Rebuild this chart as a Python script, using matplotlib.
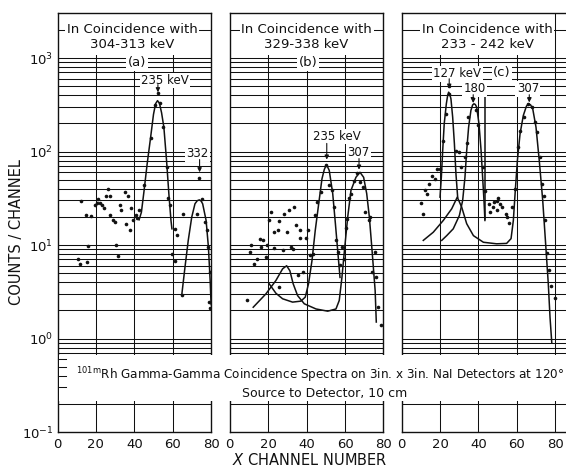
import matplotlib
matplotlib.use("Agg")
import matplotlib.pyplot as plt
import matplotlib.transforms as mtransforms
from matplotlib.patches import Rectangle
from matplotlib.lines import Line2D

plt.rcParams['font.family'] = ['DejaVu Sans']
plt.rcParams['mathtext.fontset'] = 'dejavusans'

# ---------------- data ----------------
x_ticks = [0, 20, 40, 60, 80]
y_ticks = [0.1, 1, 10, 100, 1000]
y_tick_labels = ['$10^{-1}$', '$10^{0}$', '$10^{1}$', '$10^{2}$', '$10^{3}$']

# panel (a): 304-313 keV gate
a_pt_x = [12.4, 14.6, 17.6, 19.3, 20.6, 21.1, 21.9, 23.2, 24.0, 25.5, 26.3, 27.2, 27.6, 28.9, 29.8,
          32.4, 33.3, 35.0, 36.8, 38.5, 35.6, 37.6, 39.4, 40.8, 41.5, 42.5, 15.7, 10.6, 11.9, 15.3,
          30.7, 31.5, 45.1, 48.5, 50.7, 52.1, 53.3, 55.1, 57.2, 57.7, 58.6, 61.2, 62.4, 59.4, 61.2,
          64.7, 65.5, 72.5, 73.9, 75.1, 76.9, 77.7, 78.6, 79.5, 79.1, 79.6]
a_pt_y = [29.4, 20.7, 20.5, 27.1, 28.0, 31.2, 28.0, 26.5, 24.8, 33.8, 39.9, 33.8, 20.7, 18.3, 17.5,
          27.1, 23.4, 36.7, 33.8, 25.0, 16.9, 14.3, 18.3, 20.7, 19.5, 23.4, 9.7, 7.1, 6.3, 6.5,
          10.1, 7.7, 44, 140, 311, 420, 329, 182, 69, 32, 27, 14.9, 12.9, 8.05, 6.8,
          2.9, 21.2, 21.2, 52, 31, 17.5, 14.3, 9.5, 5.1, 2.45, 2.1]
a_c1_x = [42.5, 43.7, 45.1, 46.7, 48.5, 50.0, 51.1, 52.1, 53.1, 54.2, 55.4, 56.8, 58.0, 59.1, 59.6]
a_c1_y = [18.6, 22.4, 38.3, 73.8, 142, 250, 325, 350, 328, 260, 182, 80, 35.3, 18.3, 14.9]
a_c2_x = [64.7, 66.4, 68.1, 69.9, 71.6, 72.8, 73.9, 74.8, 75.6, 77.4, 78.6, 79.5, 80.0]
a_c2_y = [2.9, 5.8, 11.2, 19.8, 27.6, 29.8, 30.4, 29.5, 27.6, 18.3, 9.5, 4.2, 2.3]

# panel (b): 329-338 keV gate
b_pt_x = [9.2, 11.0, 10.4, 12.7, 14.4, 15.7, 17.4, 16.5, 18.8, 19.3, 20.5, 21.7, 23.1, 24.9, 25.7,
          28.3, 30.6, 33.2, 23.1, 27.5, 29.6, 31.8, 32.7, 34.4, 36.5, 36.7, 39.7, 40.9, 35.3, 38.3,
          25.7, 41.9, 43.1, 44.3, 45.2, 47.5, 50.1, 51.5, 53.0, 54.4, 55.3, 56.2, 57.6, 58.4, 59.3,
          60.5, 60.9, 61.9, 63.1, 64.9, 66.1, 68.0, 69.2, 70.4, 72.3, 73.2, 75.7, 74.1, 76.2, 77.0, 79.0]
b_pt_y = [2.6, 10.1, 8.5, 6.3, 7.1, 11.7, 11.4, 9.5, 7.4, 9.9, 18.6, 22.4, 13.9, 14.3, 18.0,
          21.5, 23.8, 25.8, 9.3, 8.95, 13.7, 9.5, 9.1, 16.2, 14.3, 11.9, 11.9, 14.3, 4.8, 5.1,
          3.54, 7.9, 8.05, 20.7, 28.7, 36.7, 72.6, 43.3, 39, 25.4, 11.2, 8.4, 6.1, 9.6, 7.1,
          15.3, 19, 32, 35.5, 47.8, 58.6, 47, 41.5, 22.4, 18.3, 19.8, 8.4, 5.1, 4.6, 2.16, 1.38]
b_c1_x = [12.2, 18.8, 24.0, 27.5, 29.6, 31.3, 33.0, 35.3, 38.8, 44.9, 51.0, 55.3, 57.0, 58.4, 59.7,
          61.4, 63.1, 65.7, 67.8, 69.7, 71.3, 72.7, 74.1, 75.7, 76.3]
b_c1_y = [2.16, 3.0, 4.17, 5.56, 6.0, 5.3, 3.85, 2.88, 2.35, 2.07, 1.96, 2.07, 2.55, 4.5, 8.7,
          19.8, 38.3, 53, 60, 53, 35.5, 19.8, 8.7, 3.26, 1.5]
b_c2_x = [20.5, 24.0, 27.5, 32.7, 37.0, 39.3, 41.0, 42.8, 44.5, 46.3, 48.0, 49.2, 50.1, 51.0, 51.8,
          53.6, 55.0, 56.2, 57.4]
b_c2_y = [3.85, 3.05, 2.66, 2.45, 2.51, 2.77, 3.85, 6.8, 14.3, 27.6, 51, 64, 71, 68, 62.7,
          35.5, 16.9, 8.7, 4.5]

# panel (c): 233-242 keV gate
c_pt_x = [9.9, 11.0, 12.2, 13.4, 14.4, 15.7, 17.4, 18.6, 20.0, 21.4, 23.0, 24.7, 24.8, 28.3, 30.1,
          30.8, 33.0, 34.2, 34.7, 36.5, 38.7, 40.0, 42.2, 43.4, 45.7, 46.1, 47.4, 48.3, 49.5, 50.4,
          51.2, 49.9, 52.1, 54.4, 55.1, 56.1, 57.3, 59.1, 60.8, 61.7, 63.8, 66.0, 66.5, 67.7, 69.5,
          70.3, 72.1, 73.0, 74.2, 74.7, 75.6, 76.8, 77.6, 79.9]
c_pt_y = [28, 21.2, 39, 35, 45, 55, 51, 65, 65, 131, 253, 414, 496, 102, 98,
          68, 87, 123, 233, 380, 275, 190, 68, 38, 27.6, 22.4, 25.4, 28.7, 29.9, 31.8,
          27.6, 23.8, 25.4, 21.2, 19.8, 17.1, 25.4, 40, 111, 167, 233, 324, 380, 298, 205,
          161, 87, 44.8, 33.8, 18.3, 8.2, 5.4, 3.6, 2.7]
c_127_x = [20.0, 20.7, 21.4, 22.2, 23.3, 24.0, 24.5, 25.1, 25.7, 26.6, 27.5, 28.3, 29.2]
c_127_y = [32.5, 53, 102, 198, 324, 400, 431, 410, 366, 233, 121, 58, 32.5]
c_180_x = [20.9, 23.5, 26.9, 30.1, 31.8, 33.0, 33.9, 34.9, 36.1, 37.0, 37.7, 38.4, 39.1, 40.3,
           41.4, 42.2, 42.9, 43.4]
c_180_y = [11.2, 12.6, 14.9, 20.7, 30, 53, 102, 182, 275, 315, 324, 318, 298, 198,
           102, 53, 30, 18.3]
c_L_x = [11.3, 16.5, 21.7, 26.1, 29.0, 31.3, 33.9, 37.4, 42.6, 49.5, 54.7, 57.0, 58.2, 59.1,
         60.3, 61.7, 63.4, 65.0, 66.0, 67.2, 68.3, 70.0, 71.7, 73.5, 74.9, 76.4, 77.3, 78.2]
c_L_y = [11.2, 13.7, 18.3, 24.4, 32.5, 25.4, 16.9, 12.6, 10.7, 10.3, 10.4, 11.7, 18.3, 35.3,
         80, 155, 243, 305, 324, 315, 286, 182, 80, 30, 11.2, 3.85, 1.69, 0.91]
c_mark_x = [43.4, 43.4]
c_mark_y = [380, 19]

# ---------------- figure ----------------
INK = '#111111'
W, H = 566, 469
fig = plt.figure(figsize=(W / 100, H / 100), dpi=100)
BOT, TOP = 432.0, 13.4
PXCH = 1.92


def make_ax(left_px, xmax):
    width = xmax * PXCH
    ax = fig.add_axes([left_px / W, (H - BOT) / H, width / W, (BOT - TOP) / H])
    ax.set_yscale('log')
    ax.set_xlim(0, xmax)
    ax.set_ylim(0.1, 3000)
    ax.yaxis.set_minor_locator(matplotlib.ticker.NullLocator())
    ax.xaxis.set_minor_locator(matplotlib.ticker.NullLocator())
    ax.set_xticks(x_ticks)
    ax.set_xticklabels([str(t) for t in x_ticks])
    ax.tick_params(length=0, labelsize=9.5, pad=4, colors=INK)
    for s in ax.spines.values():
        s.set_linewidth(1.0)
        s.set_color(INK)
    hv = [k * 10.0 ** e for e in range(-1, 4) for k in range(1, 10)]
    for v in hv:
        if 0.1 < v < 2999:
            ax.axhline(v, color=INK, lw=0.75, zorder=1)
    for xv in (20, 40, 60, 80):
        if xv < xmax - 1:
            ax.axvline(xv, color=INK, lw=0.75, zorder=1)
    return ax


ax_a = make_ax(57.5, 80)
ax_b = make_ax(229.8, 80)
ax_c = make_ax(401.6, 86.9)
ax_c.spines['right'].set_visible(False)

ax_a.set_yticks(y_ticks)
ax_a.set_yticklabels(y_tick_labels)
ax_a.tick_params(axis='y', labelsize=9.5, pad=3)
for ax in (ax_b, ax_c):
    ax.set_yticks(y_ticks)
    ax.set_yticklabels([])

box = dict(boxstyle='square,pad=0.12', fc='white', ec='none')


def title_block(ax, x0, x1, xc, line2):
    ax.add_patch(Rectangle((x0, 1080), x1 - x0, 2950 - 1080, fc='white', ec='none', zorder=1.5))
    ax.text(xc, 0.962, 'In Coincidence with', transform=ax.get_xaxis_transform(),
            ha='center', va='center', fontsize=9.5, color=INK, zorder=4, bbox=box)
    ax.text(xc, 0.925, line2, transform=ax.get_xaxis_transform(),
            ha='center', va='center', fontsize=9.5, color=INK, zorder=4)


def peak_label(ax, text, xt, yt, xa, ya0, ya1):
    ax.text(xt, yt, text, ha='center', va='center', fontsize=8.5, color=INK, zorder=4, bbox=box)
    ax.annotate('', xy=(xa, ya1), xytext=(xa, ya0),
                arrowprops=dict(arrowstyle='-|>', lw=0.8, color=INK, mutation_scale=6,
                                shrinkA=0, shrinkB=0), zorder=4)


def draw(ax, px, py, curves):
    for cx, cy in curves:
        ax.plot(cx, cy, '-', color=INK, lw=1.1, zorder=2, solid_joinstyle='round')
    ax.plot(px, py, 'o', ms=2.6, color=INK, mec='none', zorder=3)


# panel a
draw(ax_a, a_pt_x, a_pt_y, [(a_c1_x, a_c1_y), (a_c2_x, a_c2_y)])
title_block(ax_a, 4.4, 73.2, 39.0, '304-313 keV')
ax_a.text(41.4, 895, '(a)', ha='center', va='center', fontsize=9.5, color=INK, zorder=4, bbox=box)
peak_label(ax_a, '235 keV', 56.0, 575, 52.3, 520, 430)
peak_label(ax_a, '332', 73.0, 95, 74.0, 82, 60)

# panel b
draw(ax_b, b_pt_x, b_pt_y, [(b_c1_x, b_c1_y), (b_c2_x, b_c2_y)])
title_block(ax_b, 6.2, 72.9, 40.0, '329-338 keV')
ax_b.text(40.6, 895, '(b)', ha='center', va='center', fontsize=9.5, color=INK, zorder=4, bbox=box)
peak_label(ax_b, '235 keV', 55.7, 145, 50.5, 122, 82)
peak_label(ax_b, '307', 66.8, 98, 67.3, 84, 64)

# panel c
draw(ax_c, c_pt_x, c_pt_y, [(c_127_x, c_127_y), (c_180_x, c_180_y), (c_L_x, c_L_y),
                            (c_mark_x, c_mark_y)])
title_block(ax_c, 12.2, 77.3, 44.5, '233 - 242 keV')
ax_c.text(52.3, 700, '(c)', ha='center', va='center', fontsize=9.5, color=INK, zorder=4, bbox=box)
peak_label(ax_c, '127 keV', 29.1, 680, 24.8, 600, 470)
peak_label(ax_c, '180', 38.2, 469, 37.3, 405, 330)
peak_label(ax_c, '307', 65.8, 469, 66.5, 405, 335)

# caption band across the lower decade
fig.add_artist(Rectangle((58.6 / W, (H - 401) / H), 1 - 58.6 / W, 46 / H,
                         transform=fig.transFigure, fc='white', ec='none', zorder=5))
blend = mtransforms.blended_transform_factory(ax_a.transAxes, ax_a.transData)
for v in (0.3, 0.4, 0.5, 0.6):
    fig.add_artist(Line2D([0, 0.055], [v, v], transform=blend, color=INK, lw=0.75, zorder=6))

fig.text(76 / W, 1 - 375 / H,
         r'$^{\mathrm{101m}}$Rh Gamma-Gamma Coincidence Spectra on 3in. x 3in. NaI Detectors at 120°',
         ha='left', va='center', fontsize=8.65, color=INK, zorder=7)
fig.text(325 / W, 1 - 394 / H, 'Source to Detector, 10 cm',
         ha='center', va='center', fontsize=9, color=INK, zorder=7)

fig.text(17 / W, 1 - 232 / H, 'COUNTS / CHANNEL', rotation=90, ha='center', va='center',
         fontsize=10.5, color=INK)
fig.text(310 / W, 1 - 460 / H, r'$\mathit{X}$ CHANNEL NUMBER', ha='center', va='center',
         fontsize=10.5, color=INK)

fig.savefig('out.png', dpi=100)
